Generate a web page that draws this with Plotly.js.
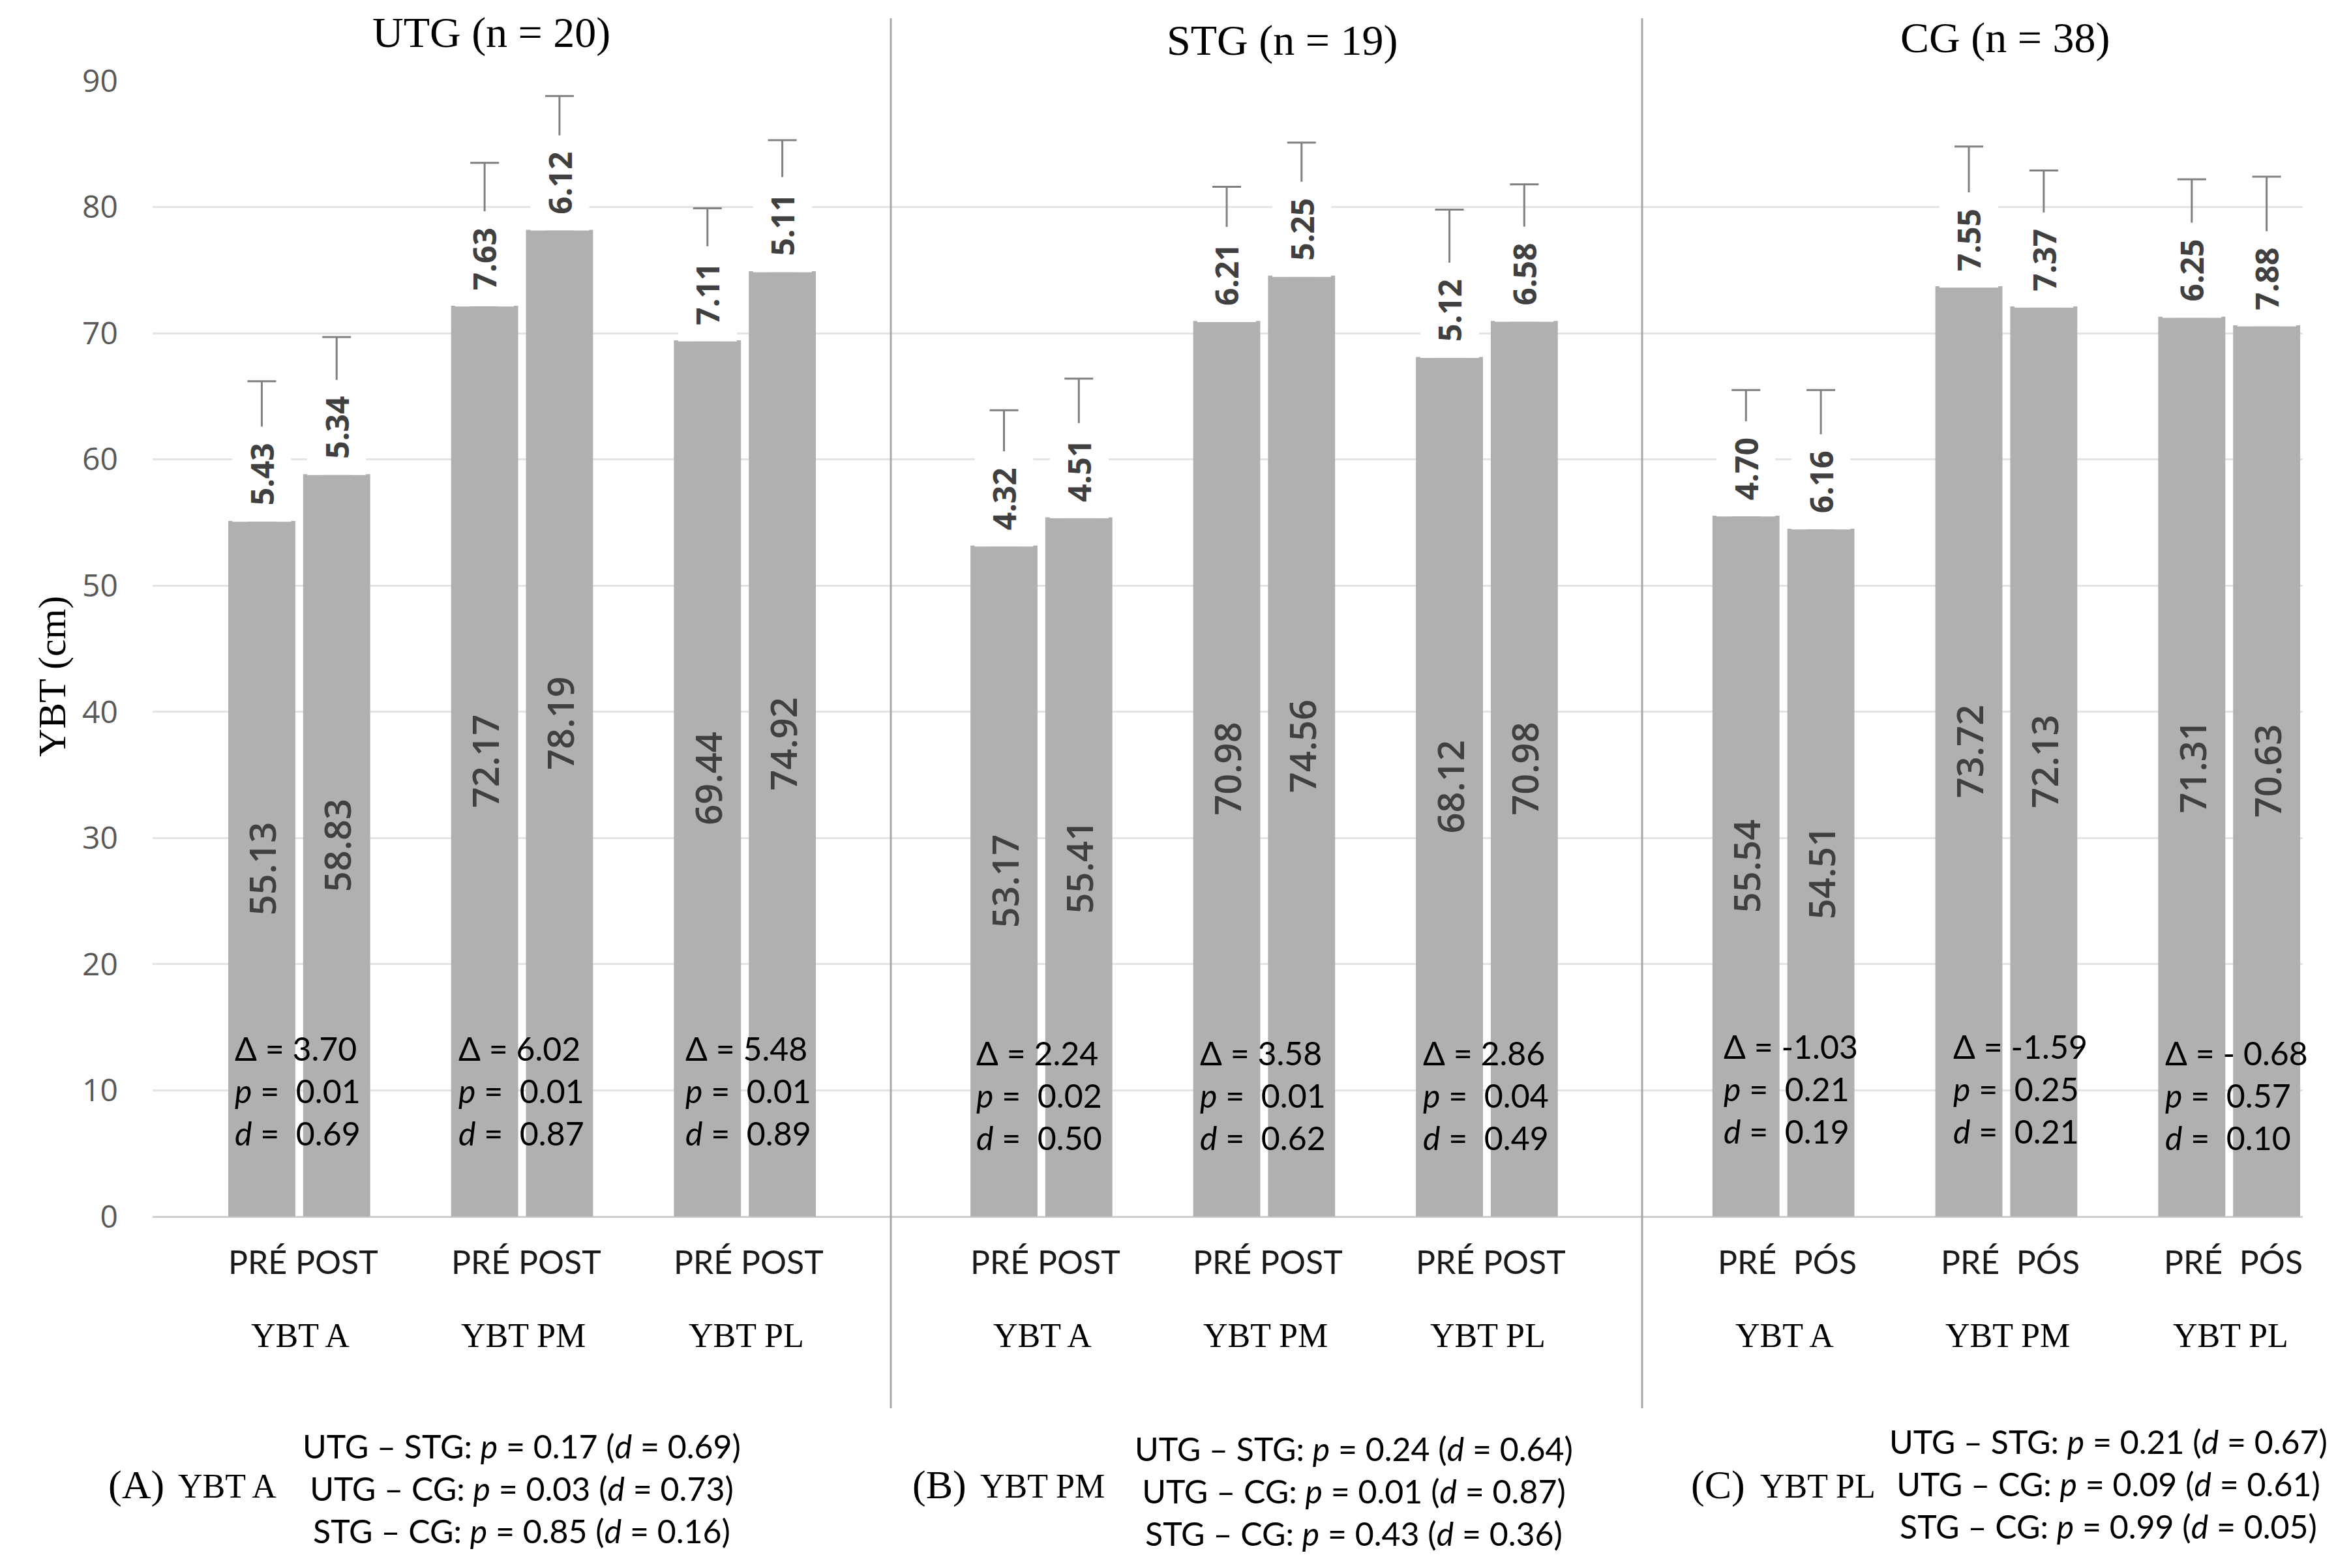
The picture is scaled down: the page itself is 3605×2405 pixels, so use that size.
<!DOCTYPE html>
<html>
<head>
<meta charset="utf-8">
<script src="https://cdn.plot.ly/plotly-3.0.1.min.js"></script>
<style>html,body{margin:0;padding:0;background:#fff;}#chart{width:3605px;height:2405px;}</style>
</head>
<body>
<div id="chart"></div>
<script>
// ---------- data ----------
const groupTitles = ['UTG (n = 20)', 'STG (n = 19)', 'CG (n = 38)'];
const tests = ['YBT A', 'YBT PM', 'YBT PL'];
const pairLabels = ['PRÉ POST', 'PRÉ POST', 'PRÉ\u00a0\u00a0PÓS'];

const utgPre = [55.13, 72.17, 69.44];
const utgPost = [58.83, 78.19, 74.92];
const stgPre = [53.17, 70.98, 68.12];
const stgPost = [55.41, 74.56, 70.98];
const cgPre = [55.54, 73.72, 71.31];
const cgPost = [54.51, 72.13, 70.63];

const utgPreSD = [5.43, 7.63, 7.11];
const utgPostSD = [5.34, 6.12, 5.11];
const stgPreSD = [4.32, 6.21, 5.12];
const stgPostSD = [4.51, 5.25, 6.58];
const cgPreSD = [4.70, 7.55, 6.25];
const cgPostSD = [6.16, 7.37, 7.88];

// drawn whisker lengths
const utgPreErr = [11.07, 11.33, 10.46];
const utgPostErr = [10.87, 10.61, 10.38];
const stgPreErr = [10.73, 10.62, 11.68];
const stgPostErr = [10.99, 10.54, 10.82];
const cgPreErr = [9.96, 11.08, 10.89];
const cgPostErr = [10.99, 10.77, 11.77];

const utgDelta = ['3.70', '6.02', '5.48'];
const utgP = ['0.01', '0.01', '0.01'];
const utgD = ['0.69', '0.87', '0.89'];
const stgDelta = ['2.24', '3.58', '2.86'];
const stgP = ['0.02', '0.01', '0.04'];
const stgD = ['0.50', '0.62', '0.49'];
const cgDelta = ['-1.03', '-1.59', '- 0.68'];
const cgP = ['0.21', '0.25', '0.57'];
const cgD = ['0.19', '0.21', '0.10'];

const panelLetters = ['(A)', '(B)', '(C)'];
const compPairs = ['UTG – STG', 'UTG – CG', 'STG – CG'];
const compA_p = ['0.17', '0.03', '0.85'];
const compA_d = ['0.69', '0.73', '0.16'];
const compB_p = ['0.24', '0.01', '0.43'];
const compB_d = ['0.64', '0.87', '0.36'];
const compC_p = ['0.21', '0.09', '0.99'];
const compC_d = ['0.67', '0.61', '0.05'];

// ---------- layout helpers ----------
const W = 3605, H = 2405, ML = 234, MR = 74, MT = 124, MB = 539;
const PW = W - ML - MR, PH = H - MT - MB;
const px2x = px => (px - ML) / PW;
const py2y = py => (H - MB - py) / PH;

const pre = [utgPre, stgPre, cgPre];
const post = [utgPost, stgPost, cgPost];
const preSD = [utgPreSD, stgPreSD, cgPreSD];
const postSD = [utgPostSD, stgPostSD, cgPostSD];
const preErr = [utgPreErr, stgPreErr, cgPreErr];
const postErr = [utgPostErr, stgPostErr, cgPostErr];
const deltas = [utgDelta, stgDelta, cgDelta];
const pvals = [utgP, stgP, cgP];
const dvals = [utgD, stgD, cgD];
const compP = [compA_p, compB_p, compC_p];
const compD = [compA_d, compB_d, compC_d];

const suffix = ['', '2', '3'];
const sepPx = [1366, 2518];
const domains = [[0, px2x(sepPx[0])], [px2x(sepPx[0]), px2x(sepPx[1])], [px2x(sepPx[1]), 1]];
const ranges = [[-0.658, 2.655], [-0.676, 2.697], [-0.634, 2.33]];
const titlePx = [[753, 50], [1966, 62], [3074, 58]];
const blockPy = [[1673, 1673, 1673], [1680, 1680, 1680], [1670, 1670, 1680]];
const blockShift = [[-101, -100, -93], [-102, -100, -100], [-94, -83, -100]];
const letterPx = [209, 1440, 2634];
const letterTestPx = [348, 1598, 2787];
const compPx = [[800, 2283], [2076, 2287], [3233, 2276]];

const BAR = '#b0b0b0';
const INK = '#404040';
const SANS = 'Lato, "Open Sans", sans-serif';
const LBL = '"Open Sans", sans-serif';
const SERIF = '"Liberation Serif", "DejaVu Serif", serif';
const NB = '\u00a0';

const traces = [];
const annotations = [];
const layout = {
  width: W, height: H,
  paper_bgcolor: '#ffffff', plot_bgcolor: '#ffffff',
  margin: {l: ML, r: MR, t: MT, b: MB, pad: 0},
  barmode: 'group', bargap: 0.328, bargroupgap: 0.104,
  showlegend: false,
  yaxis: {
    range: [0, 90], dtick: 10, tick0: 0,
    showgrid: true, gridcolor: '#e4e4e4', gridwidth: 3,
    zeroline: true, zerolinecolor: '#cfcfcf', zerolinewidth: 3,
    showline: false, ticks: '',
    tickfont: {family: LBL, size: 48, color: '#595959'},
    ticklabelstandoff: 52,
    fixedrange: true
  },
  annotations: annotations,
  shapes: []
};

for (let g = 0; g < 3; g++) {
  const s = suffix[g];
  const xa = 'x' + s;
  layout['xaxis' + s] = {
    domain: domains[g], range: ranges[g], anchor: 'y',
    type: 'category', categoryorder: 'array', categoryarray: tests,
    showticklabels: false, showgrid: false, zeroline: false, showline: false, ticks: '',
    fixedrange: true
  };
  const common = {
    type: 'bar', x: tests, xaxis: xa, yaxis: 'y',
    marker: {color: BAR, line: {width: 0}},
    textposition: 'inside', insidetextanchor: 'middle', textangle: -90,
    constraintext: 'none',
    textfont: {family: LBL, size: 56, color: INK, weight: 600},
    hoverinfo: 'skip', cliponaxis: false
  };
  traces.push(Object.assign({}, common, {
    name: 'PRÉ', y: pre[g], text: pre[g].map(v => v.toFixed(2)),
    error_y: {type: 'data', symmetric: false, array: preErr[g], arrayminus: pre[g].map(() => 0),
              color: '#808080', thickness: 3, width: 22}
  }));
  traces.push(Object.assign({}, common, {
    name: 'POST', y: post[g], text: post[g].map(v => v.toFixed(2)),
    error_y: {type: 'data', symmetric: false, array: postErr[g], arrayminus: post[g].map(() => 0),
              color: '#808080', thickness: 3, width: 22}
  }));

  // group title
  annotations.push({xref: 'paper', yref: 'paper', x: px2x(titlePx[g][0]), y: py2y(titlePx[g][1]),
    xanchor: 'center', yanchor: 'middle', showarrow: false, text: groupTitles[g],
    font: {family: SERIF, size: 66, color: '#000000'}});

  for (let i = 0; i < 3; i++) {
    // SD labels above bars (white box hides whisker behind the label)
    [[pre, preSD, -57.5], [post, postSD, 57.5]].forEach(([vals, sds, sh]) => {
      annotations.push({xref: xa, yref: 'y', x: tests[i], y: vals[g][i], xshift: sh, yshift: -2,
        xanchor: 'center', yanchor: 'bottom', textangle: -90, showarrow: false,
        text: NB + sds[g][i].toFixed(2) + NB, bgcolor: '#ffffff', borderpad: 12,
        font: {family: LBL, size: 48, color: INK, weight: 700}});
    });
    // delta / p / d block
    annotations.push({xref: xa, yref: 'paper', x: tests[i], xshift: blockShift[g][i],
      y: py2y(blockPy[g][i]), xanchor: 'left', yanchor: 'middle', align: 'left', showarrow: false,
      text: 'Δ = ' + deltas[g][i] + '<br><i>p</i> =' + NB + ' ' + pvals[g][i] + '<br><i>d</i> =' + NB + ' ' + dvals[g][i],
      font: {family: SANS, size: 50, color: '#000000'}});
    // PRÉ POST labels
    annotations.push({xref: xa, yref: 'paper', x: tests[i], xshift: 6, y: py2y(1935),
      xanchor: 'center', yanchor: 'middle', showarrow: false, text: pairLabels[g],
      font: {family: SANS, size: 50, color: '#1a1a1a'}});
    // test labels
    annotations.push({xref: xa, yref: 'paper', x: tests[i], xshift: 2, y: py2y(2048),
      xanchor: 'center', yanchor: 'middle', showarrow: false, text: tests[i],
      font: {family: SERIF, size: 52, color: '#000000'}});
  }

  // bottom comparison panel
  annotations.push({xref: 'paper', yref: 'paper', x: px2x(letterPx[g]), y: py2y(2277),
    xanchor: 'center', yanchor: 'middle', showarrow: false, text: panelLetters[g],
    font: {family: SERIF, size: 62, color: '#000000'}});
  annotations.push({xref: 'paper', yref: 'paper', x: px2x(letterTestPx[g]), y: py2y(2279),
    xanchor: 'center', yanchor: 'middle', showarrow: false, text: tests[g],
    font: {family: SERIF, size: 52, color: '#000000'}});
  annotations.push({xref: 'paper', yref: 'paper', x: px2x(compPx[g][0]), y: py2y(compPx[g][1]),
    xanchor: 'center', yanchor: 'middle', align: 'center', showarrow: false,
    text: compPairs.map((c, k) => c + ': <i>p</i> = ' + compP[g][k] + ' (<i>d</i> = ' + compD[g][k] + ')').join('<br>'),
    font: {family: SANS, size: 50, color: '#000000'}});
}

// y axis title
annotations.push({xref: 'paper', yref: 'paper', x: px2x(80), y: py2y(1038),
  xanchor: 'center', yanchor: 'middle', textangle: -90, showarrow: false, text: 'YBT (cm)',
  font: {family: SERIF, size: 60, color: '#000000'}});

// panel separators
sepPx.forEach(p => {
  layout.shapes.push({type: 'line', xref: 'paper', yref: 'paper', x0: px2x(p), x1: px2x(p),
    y0: py2y(2160), y1: py2y(28), line: {color: '#a8a8a8', width: 3}, layer: 'above'});
});

Plotly.newPlot('chart', traces, layout, {staticPlot: true, displayModeBar: false});
</script>
</body>
</html>
